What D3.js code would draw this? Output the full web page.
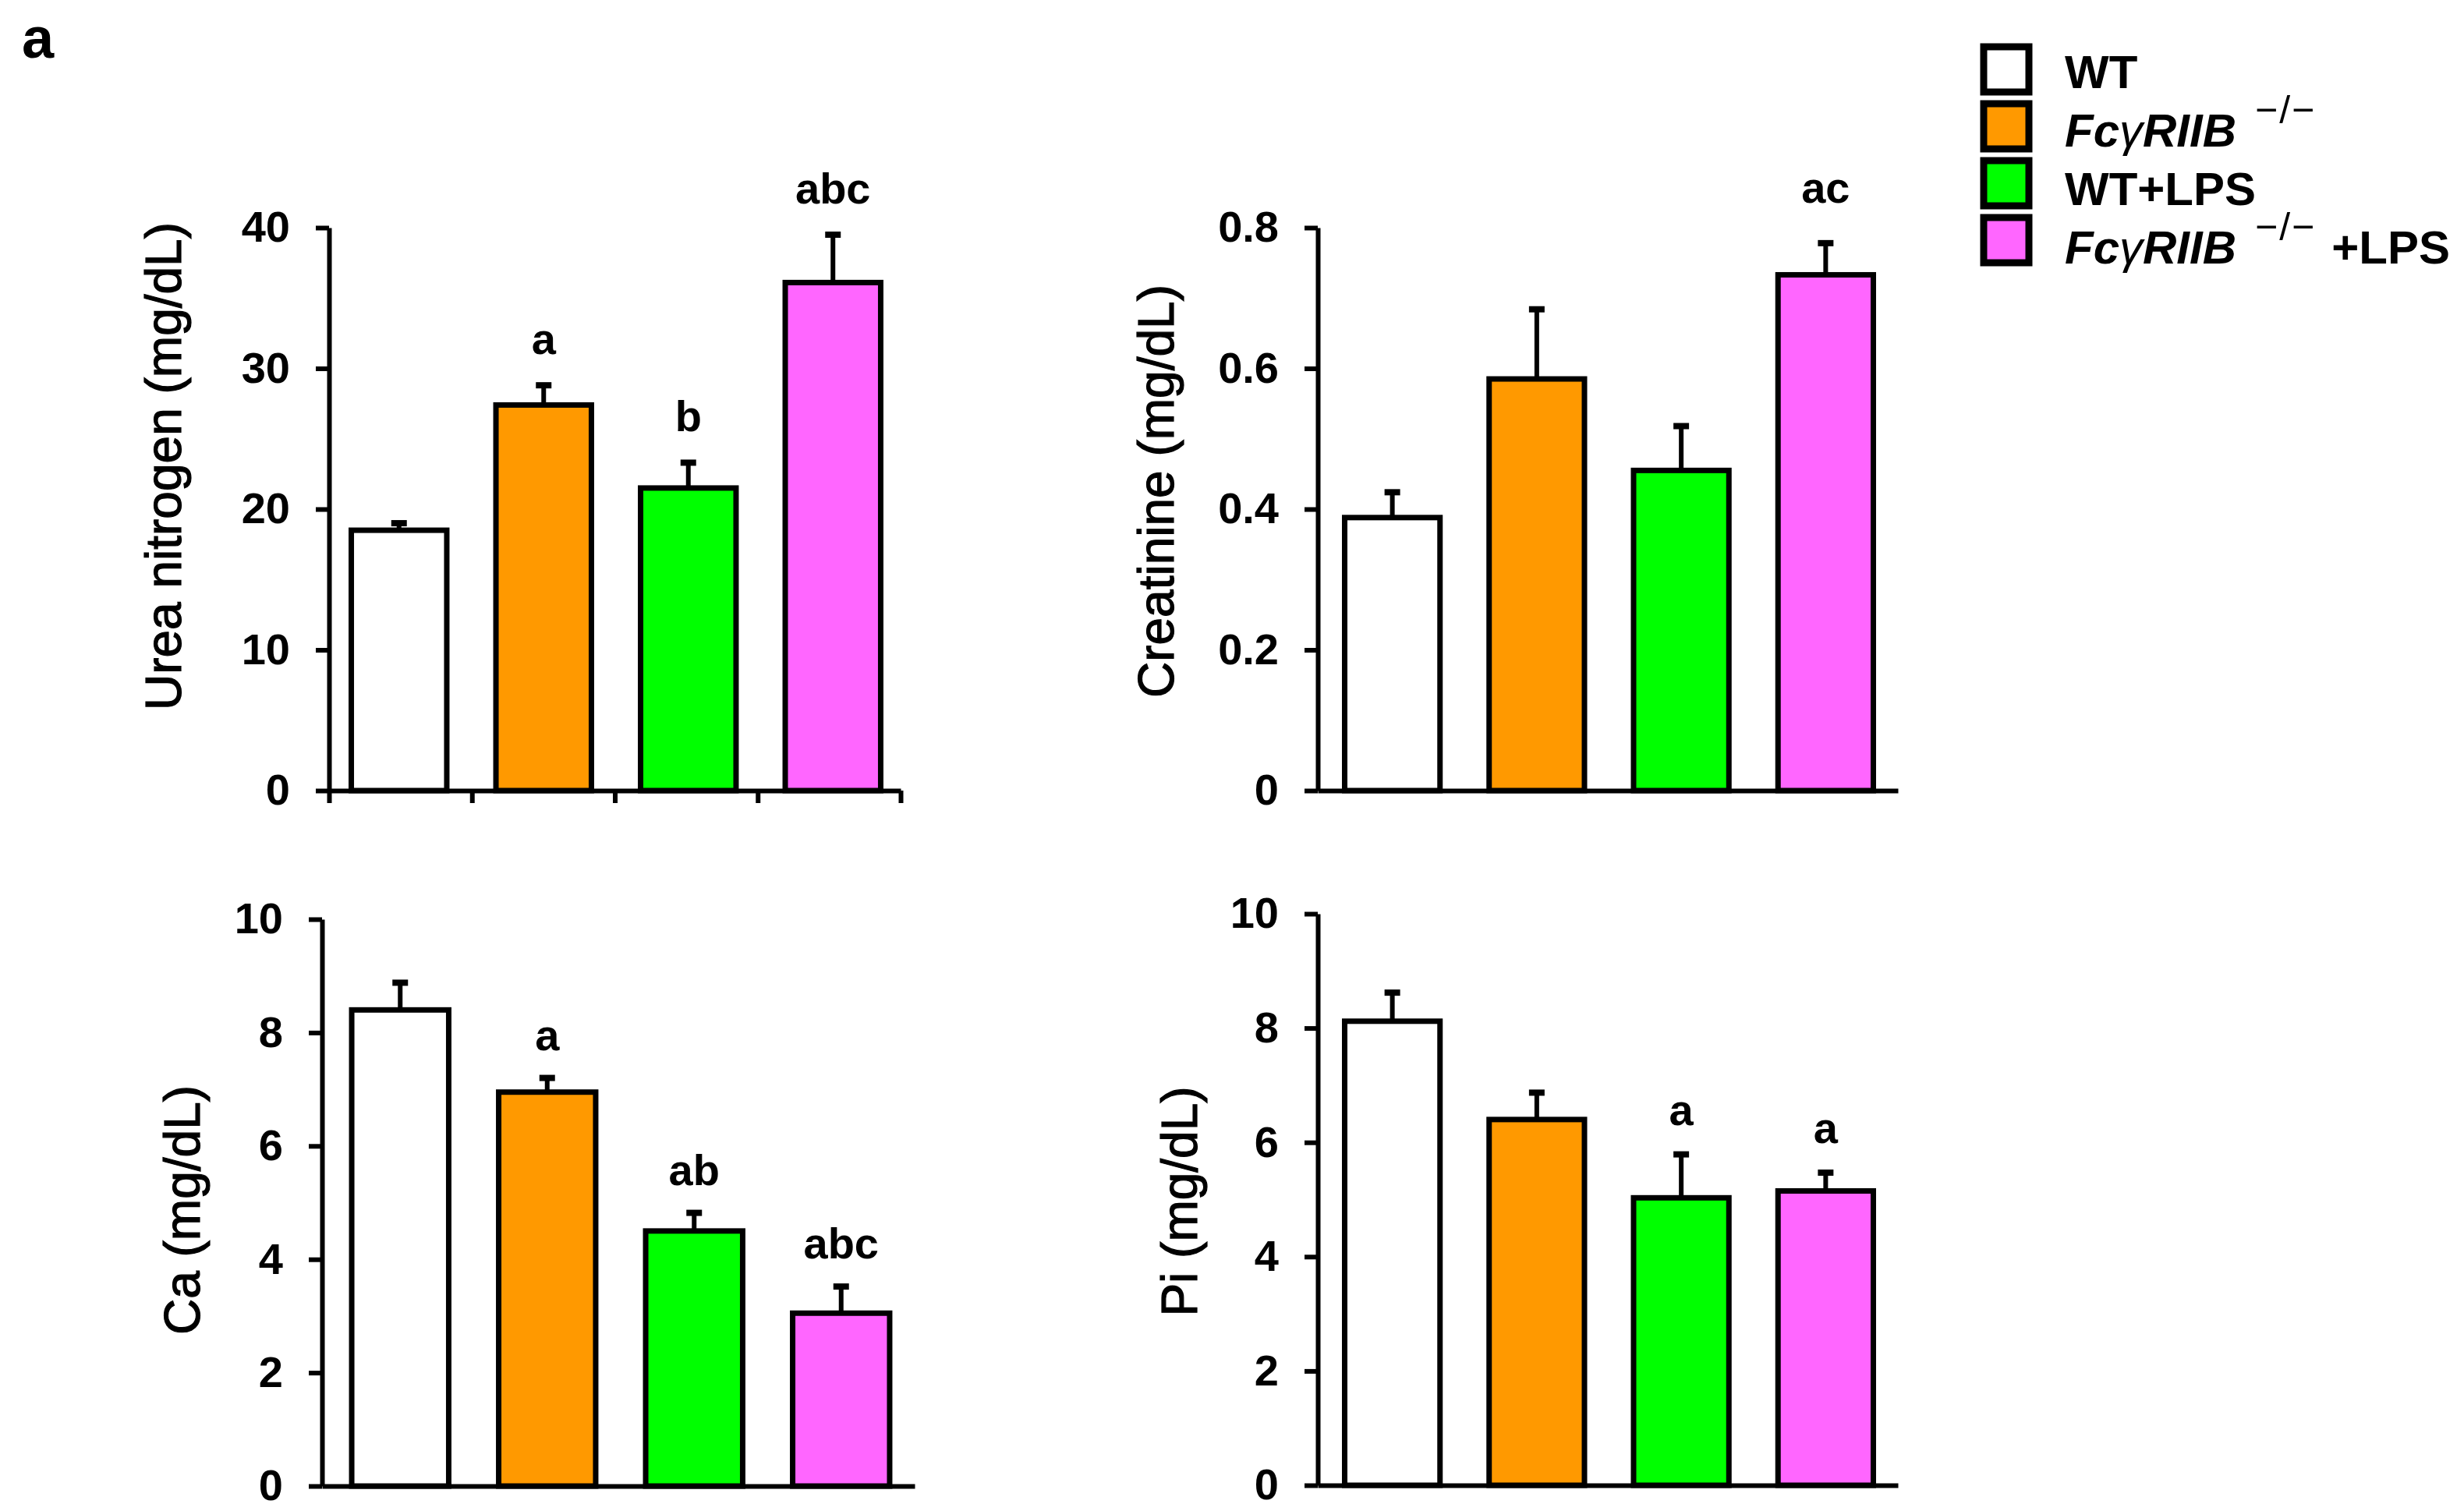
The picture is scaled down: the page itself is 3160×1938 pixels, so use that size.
<!DOCTYPE html>
<html>
<head>
<meta charset="utf-8">
<script src="https://cdn.jsdelivr.net/npm/d3@7"></script>
<style>
  body { margin: 0; background: #fff; }
  svg text { font-family: "Liberation Sans", Arial, sans-serif; }
</style>
</head>
<body>
<script>
// groups and colours
var groups = ["WT", "FcγRIIB-/-", "WT+LPS", "FcγRIIB-/- +LPS"];
var colors = ["#ffffff", "#ff9900", "#00ff00", "#ff66ff"];

// values (mean and upper error)
var ureaMean = [18.5, 27.4, 21.5, 36.1];
var ureaErr = [0.5, 1.4, 1.8, 3.4];
var ureaLetters = ["", "a", "b", "abc"];
var ureaTicks = [0, 10, 20, 30, 40];

var creaMean = [0.388, 0.585, 0.455, 0.733];
var creaErr = [0.036, 0.099, 0.063, 0.045];
var creaLetters = ["", "", "", "ac"];
var creaTicks = [0, 0.2, 0.4, 0.6, 0.8];

var caMean = [8.4, 6.95, 4.5, 3.05];
var caErr = [0.48, 0.25, 0.32, 0.47];
var caLetters = ["", "a", "ab", "abc"];
var caTicks = [0, 2, 4, 6, 8, 10];

var piMean = [8.12, 6.4, 5.03, 5.15];
var piErr = [0.5, 0.47, 0.76, 0.32];
var piLetters = ["", "", "a", "a"];
var piTicks = [0, 2, 4, 6, 8, 10];

var width = 3160, height = 1938;

var svg = d3.select("body")
    .append("svg")
    .attr("width", width)
    .attr("height", height);

// panel tag
svg.append("text")
    .attr("x", 28).attr("y", 74)
    .attr("font-size", 74).attr("font-weight", "bold")
    .text("a");

// one panel = one bar chart
function drawPanel(p) {
    var y = d3.scaleLinear()
        .domain([0, d3.max(p.ticks)])
        .range([p.bottom, p.top]);

    var x = d3.scaleBand()
        .domain(groups)
        .range([p.bandStart, p.bandEnd])
        .paddingInner(0.34)
        .paddingOuter(0.17);

    var g = svg.append("g");

    // bars
    g.selectAll(".bar")
        .data(p.mean)
        .enter().append("rect")
        .attr("x", function (d, i) { return x(groups[i]); })
        .attr("y", function (d) { return y(d); })
        .attr("width", x.bandwidth())
        .attr("height", function (d) { return y(0) - y(d); })
        .attr("fill", function (d, i) { return colors[i]; })
        .attr("stroke", "#000")
        .attr("stroke-width", 7);

    // error bars (upper only)
    g.selectAll(".err")
        .data(p.mean)
        .enter().append("line")
        .attr("x1", function (d, i) { return x(groups[i]) + x.bandwidth() / 2; })
        .attr("x2", function (d, i) { return x(groups[i]) + x.bandwidth() / 2; })
        .attr("y1", function (d) { return y(d); })
        .attr("y2", function (d, i) { return y(d + p.err[i]); })
        .attr("stroke", "#000")
        .attr("stroke-width", 6);

    g.selectAll(".cap")
        .data(p.mean)
        .enter().append("line")
        .attr("x1", function (d, i) { return x(groups[i]) + x.bandwidth() / 2 - 10; })
        .attr("x2", function (d, i) { return x(groups[i]) + x.bandwidth() / 2 + 10; })
        .attr("y1", function (d, i) { return y(d + p.err[i]); })
        .attr("y2", function (d, i) { return y(d + p.err[i]); })
        .attr("stroke", "#000")
        .attr("stroke-width", 8);

    // significance letters
    g.selectAll(".sig")
        .data(p.mean)
        .enter().append("text")
        .attr("x", function (d, i) { return x(groups[i]) + x.bandwidth() / 2; })
        .attr("y", function (d, i) { return y(d + p.err[i]) - p.letterGap; })
        .attr("text-anchor", "middle")
        .attr("font-size", 56)
        .attr("font-weight", "bold")
        .text(function (d, i) { return p.letters[i]; });

    // Y axis
    var yAxis = g.append("g")
        .attr("transform", "translate(" + p.axisX + ",0)")
        .call(d3.axisLeft(y)
            .tickValues(p.ticks)
            .tickSize(17)
            .tickSizeOuter(0)
            .tickPadding(33)
            .tickFormat(p.format));
    yAxis.select(".domain").attr("stroke-width", 6);
    yAxis.selectAll(".tick line").attr("stroke-width", 6);
    yAxis.selectAll(".tick text")
        .attr("font-size", 56)
        .attr("font-weight", "bold")
        .attr("fill", "#000")
        .attr("font-family", "Liberation Sans, Arial, sans-serif");

    // X axis (no labels)
    var xl = d3.scaleLinear().domain([0, 4]).range([p.axisX, p.xEnd]);
    var xAxis = g.append("g")
        .attr("transform", "translate(0," + p.bottom + ")")
        .call(d3.axisBottom(xl)
            .tickValues(p.xTicks ? [0, 1, 2, 3, 4] : [])
            .tickSize(16)
            .tickSizeOuter(0)
            .tickFormat(""));
    xAxis.select(".domain").attr("stroke-width", 6);
    xAxis.selectAll(".tick line").attr("stroke-width", 6);

    // Y label
    svg.append("text")
        .attr("transform", "translate(" + p.labelX + "," + p.labelY + ") rotate(-90)")
        .attr("text-anchor", "middle")
        .attr("font-size", 64)
        .attr("stroke", "#000")
        .attr("stroke-width", 1.2)
        .text(p.label);
}

var fmtInt = d3.format("d");
var fmtCrea = function (d) { return d === 0 ? "0" : d3.format(".1f")(d); };

drawPanel({ mean: ureaMean, err: ureaErr, letters: ureaLetters, ticks: ureaTicks, format: fmtInt,
    axisX: 422, xEnd: 1155, bandStart: 419, bandEnd: 1161, top: 292, bottom: 1014, xTicks: true,
    letterGap: 40, label: "Urea nitrogen (mg/dL)", labelX: 232, labelY: 598 });

drawPanel({ mean: creaMean, err: creaErr, letters: creaLetters, ticks: creaTicks, format: fmtCrea,
    axisX: 1690, xEnd: 2434, bandStart: 1693, bandEnd: 2434, top: 292, bottom: 1014, xTicks: false,
    letterGap: 52, label: "Creatinine (mg/dL)", labelX: 1505, labelY: 630 });

drawPanel({ mean: caMean, err: caErr, letters: caLetters, ticks: caTicks, format: fmtInt,
    axisX: 413, xEnd: 1173, bandStart: 419, bandEnd: 1173, top: 1179, bottom: 1906, xTicks: false,
    letterGap: 36, label: "Ca (mg/dL)", labelX: 256, labelY: 1552 });

drawPanel({ mean: piMean, err: piErr, letters: piLetters, ticks: piTicks, format: fmtInt,
    axisX: 1690, xEnd: 2434, bandStart: 1693, bandEnd: 2434, top: 1172, bottom: 1905, xTicks: false,
    letterGap: 38, label: "Pi (mg/dL)", labelX: 1535, labelY: 1541 });

// legend
var legend = svg.append("g").attr("transform", "translate(2544,60)");
var rowH = 73;

legend.selectAll("rect")
    .data(groups)
    .enter().append("rect")
    .attr("x", 0)
    .attr("y", function (d, i) { return i * rowH; })
    .attr("width", 58)
    .attr("height", 58)
    .attr("fill", function (d, i) { return colors[i]; })
    .attr("stroke", "#000")
    .attr("stroke-width", 9);

legend.selectAll("text")
    .data(groups)
    .enter().append("text")
    .attr("x", 104)
    .attr("y", function (d, i) { return 53 + i * 75; })
    .attr("font-size", 60)
    .attr("font-weight", "bold")
    .each(function (d) {
        var t = d3.select(this);
        if (d.indexOf("FcγRIIB") === 0) {
            t.append("tspan").attr("font-style", "italic").text("Fc");
            t.append("tspan").attr("font-style", "italic").attr("font-weight", "normal").text("γ");
            t.append("tspan").attr("font-style", "italic").text("RIIB");
            t.append("tspan").attr("font-weight", "normal").attr("font-size", 50)
                .attr("letter-spacing", 2)
                .attr("dx", 24).attr("dy", -30).text("−/−");
            if (d.indexOf("+LPS") > 0) {
                t.append("tspan").attr("dx", 20).attr("dy", 30).text("+LPS");
            }
        } else {
            t.text(d);
        }
    });
</script>
</body>
</html>
